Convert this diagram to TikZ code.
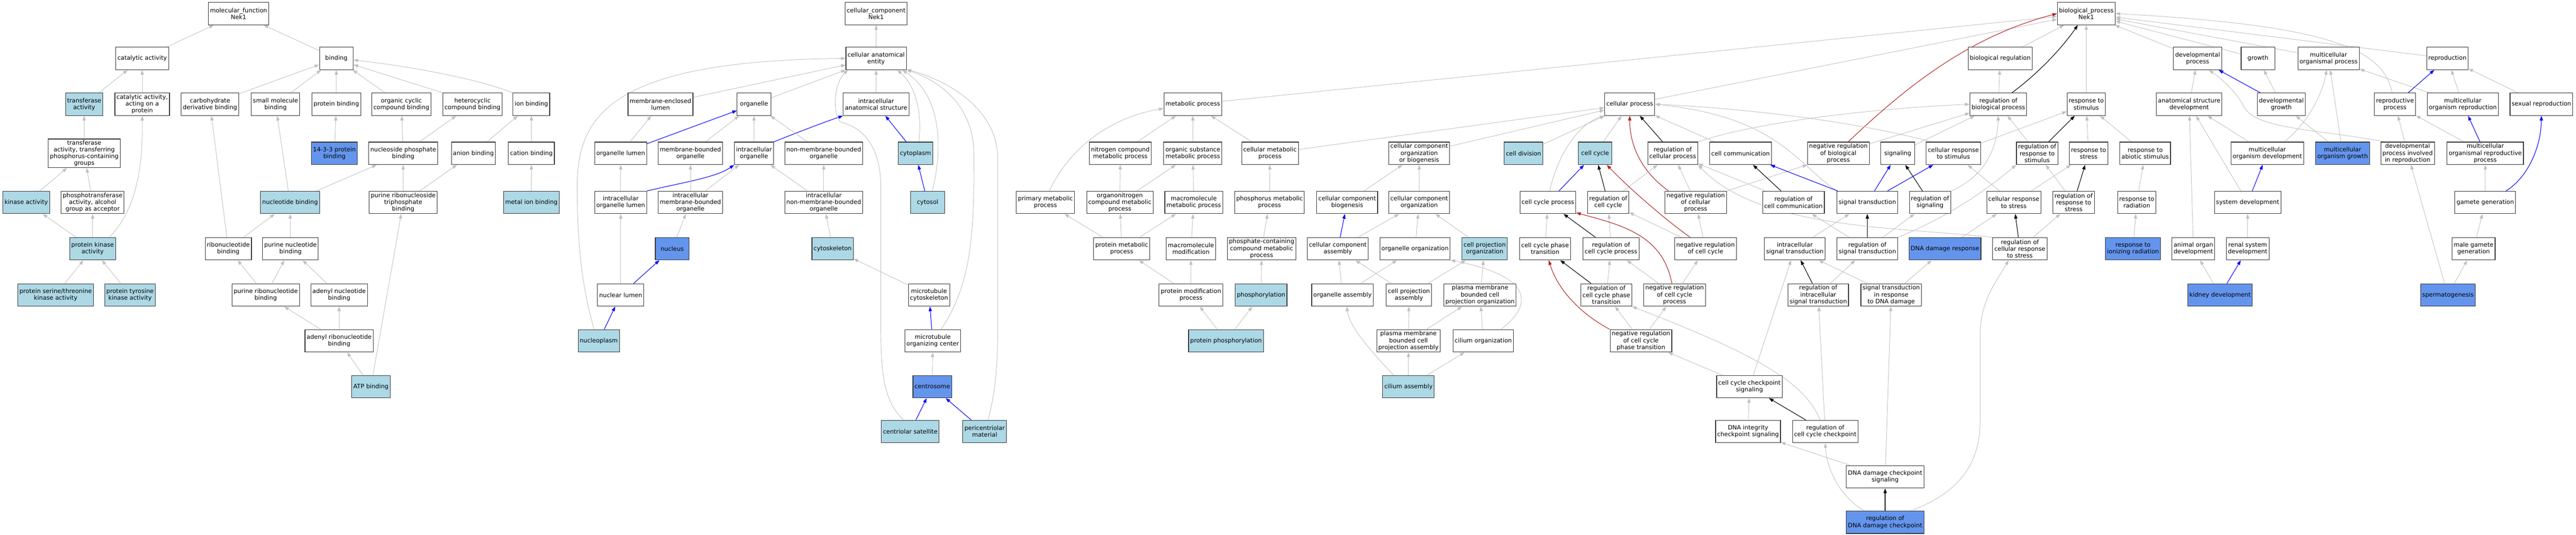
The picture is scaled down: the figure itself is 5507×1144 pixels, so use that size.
\documentclass[tikz,border=0pt]{standalone}
\usepackage{fontspec}
\setmainfont{DejaVu Sans}
\usetikzlibrary{arrows.meta}
\definecolor{cLB}{HTML}{ADD8E6}
\definecolor{cRB}{HTML}{6495ED}
\definecolor{cG}{HTML}{C0C0C0}
\definecolor{cR}{HTML}{B22222}
\definecolor{cBd}{HTML}{333333}
\pgfdeclarelayer{bg}
\pgfsetlayers{bg,main}
\tikzset{
  nb/.style={draw=cBd, line width=1.2pt, fill=white, rectangle, align=center,
    inner xsep=3.5pt, inner ysep=2.5pt, minimum height=48pt, minimum width=72pt,
    font=\fontsize{12.8}{14.6}\selectfont},
  lbn/.style={nb, fill=cLB},
  rbn/.style={nb, fill=cRB},
  ge/.style={draw=cG, line width=1pt, -{Triangle[length=10pt,width=7pt]}},
  be/.style={draw=blue, line width=1.2pt, -{Triangle[length=10pt,width=7pt]}},
  ke/.style={draw=black, line width=1.2pt, -{Triangle[length=10pt,width=7pt]}},
  re/.style={draw=cR, line width=1.2pt, -{Triangle[length=10pt,width=7pt]}},
}
\begin{document}
\begin{tikzpicture}[x=1pt,y=-1pt]
\useasboundingbox (0,0) rectangle (5507,1144);
% ---------------- molecular function ----------------
\node[nb] (mf) at (510,29) {molecular\_function\\Nek1};
\node[nb] (catact) at (304,125) {catalytic activity};
\node[nb] (binding) at (719,125) {binding};
\node[lbn] (transf) at (180,223) {transferase\\activity};
\node[nb] (catprot) at (304,223) {catalytic activity,\\acting on a\\protein};
\node[nb] (carbo) at (449,223) {carbohydrate\\derivative binding};
\node[nb] (smallmol) at (589,223) {small molecule\\binding};
\node[nb] (protbind) at (719,223) {protein binding};
\node[nb] (orgcyc) at (858,223) {organic cyclic\\compound binding};
\node[nb] (hetero) at (1010,223) {heterocyclic\\compound binding};
\node[nb] (ionb) at (1136,223) {ion binding};
\node[nb] (transphos) at (180,328) {transferase\\activity, transferring\\phosphorus-containing\\groups};
\node[rbn] (b1433) at (715,328) {14-3-3 protein\\binding};
\node[nb] (nucphos) at (862,328) {nucleoside phosphate\\binding};
\node[nb] (anion) at (1012,328) {anion binding};
\node[nb] (cation) at (1136,328) {cation binding};
\node[lbn] (kinase) at (56,433) {kinase activity};
\node[nb] (phosphotr) at (198,433) {phosphotransferase\\activity, alcohol\\group as acceptor};
\node[lbn] (nucleotide) at (620,433) {nucleotide binding};
\node[nb] (purribotri) at (862,433) {purine ribonucleoside\\triphosphate\\binding};
\node[lbn] (metalion) at (1136,433) {metal ion binding};
\node[lbn] (protkin) at (198,532) {protein kinase\\activity};
\node[nb] (ribonuc) at (488,532) {ribonucleotide\\binding};
\node[nb] (purnuc) at (621,532) {purine nucleotide\\binding};
\node[lbn] (serthr) at (119,631) {protein serine/threonine\\kinase activity};
\node[lbn] (tyr) at (278,631) {protein tyrosine\\kinase activity};
\node[nb] (purribo) at (568,631) {purine ribonucleotide\\binding};
\node[nb] (adenyl) at (725,631) {adenyl nucleotide\\binding};
\node[nb] (adenylribo) at (725,729) {adenyl ribonucleotide\\binding};
\node[lbn] (atp) at (793,827) {ATP binding};
% ---------------- cellular component ----------------
\node[nb] (cc) at (1873,29) {cellular\_component\\Nek1};
\node[nb] (cae) at (1873,125) {cellular anatomical\\entity};
\node[nb] (mel) at (1412,223) {membrane-enclosed\\lumen};
\node[nb] (organelle) at (1612,223) {organelle};
\node[nb] (ias) at (1873,223) {intracellular\\anatomical structure};
\node[nb] (orglumen) at (1327,328) {organelle lumen};
\node[nb] (mbo) at (1476,328) {membrane-bounded\\organelle};
\node[nb] (io) at (1612,328) {intracellular\\organelle};
\node[nb] (nmbo) at (1761,328) {non-membrane-bounded\\organelle};
\node[lbn] (cytoplasm) at (1957,328) {cytoplasm};
\node[nb] (iol) at (1327,433) {intracellular\\organelle lumen};
\node[nb] (imbo) at (1476,433) {intracellular\\membrane-bounded\\organelle};
\node[nb] (inmbo) at (1761,433) {intracellular\\non-membrane-bounded\\organelle};
\node[lbn] (cytosol) at (1983,433) {cytosol};
\node[rbn] (nucleus) at (1437,532) {nucleus};
\node[lbn] (cytoskel) at (1780,532) {cytoskeleton};
\node[nb] (nuclumen) at (1327,631) {nuclear lumen};
\node[nb] (mtcyto) at (1986,631) {microtubule\\cytoskeleton};
\node[lbn] (nucleoplasm) at (1280,729) {nucleoplasm};
\node[nb] (mtoc) at (1994,729) {microtubule\\organizing center};
\node[rbn] (centrosome) at (1993,827) {centrosome};
\node[lbn] (centsat) at (1946,923) {centriolar satellite};
\node[lbn] (pcm) at (2105,923) {pericentriolar\\material};
% ---------------- biological process ----------------
\node[nb] (bp) at (4460,29) {biological\_process\\Nek1};
\node[nb] (bioreg) at (4276,125) {biological regulation};
\node[nb] (devproc) at (4698,125) {developmental\\process};
\node[nb] (growth) at (4827,125) {growth};
\node[nb] (mop) at (4978,125) {multicellular\\organismal process};
\node[nb] (repro) at (5232,125) {reproduction};
\node[nb] (metab) at (2550,223) {metabolic process};
\node[nb] (cellproc) at (3484,223) {cellular process};
\node[nb] (regbio) at (4272,223) {regulation of\\biological process};
\node[nb] (respstim) at (4460,223) {response to\\stimulus};
\node[nb] (asd) at (4680,223) {anatomical structure\\development};
\node[nb] (devgrowth) at (4877,223) {developmental\\growth};
\node[nb] (reproproc) at (5120,223) {reproductive\\process};
\node[nb] (mor) at (5265,223) {multicellular\\organism reproduction};
\node[nb] (sexrepro) at (5433,223) {sexual reproduction};
% row 3
\node[nb] (nitro) at (2395,328) {nitrogen compound\\metabolic process};
\node[nb] (orgsub) at (2550,328) {organic substance\\metabolic process};
\node[nb] (cellmetab) at (2715,328) {cellular metabolic\\process};
\node[nb] (ccoob) at (3034,328) {cellular component\\organization\\or biogenesis};
\node[lbn] (celldiv) at (3257,328) {cell division};
\node[lbn] (cellcycle) at (3410,328) {cell cycle};
\node[nb] (regcellproc) at (3576,328) {regulation of\\cellular process};
\node[nb] (cellcomm) at (3721,328) {cell communication};
\node[nb] (negregbio) at (3930,328) {negative regulation\\of biological\\process};
\node[nb] (signaling) at (4057,328) {signaling};
\node[nb] (cellrespstim) at (4176,328) {cellular response\\to stimulus};
\node[nb] (regrespstim) at (4355,328) {regulation of\\response to\\stimulus};
\node[nb] (respstress) at (4465,328) {response to\\stress};
\node[nb] (respabio) at (4586,328) {response to\\abiotic stimulus};
\node[nb] (mod) at (4847,328) {multicellular\\organism development};
\node[rbn] (mog) at (5008,328) {multicellular\\organism growth};
\node[nb] (dpir) at (5147,328) {developmental\\process involved\\in reproduction};
\node[nb] (morp) at (5313,328) {multicellular\\organismal reproductive\\process};
% row 4
\node[nb] (primmetab) at (2235,433) {primary metabolic\\process};
\node[nb] (orgnitro) at (2394,433) {organonitrogen\\compound metabolic\\process};
\node[nb] (macrometab) at (2552,433) {macromolecule\\metabolic process};
\node[nb] (phosmetab) at (2714,433) {phosphorus metabolic\\process};
\node[nb] (ccbio) at (2880,433) {cellular component\\biogenesis};
\node[nb] (ccorg) at (3034,433) {cellular component\\organization};
\node[nb] (ccproc) at (3309,433) {cell cycle process};
\node[nb] (regcc) at (3438,433) {regulation of\\cell cycle};
\node[nb] (negregcellproc) at (3625,433) {negative regulation\\of cellular\\process};
\node[nb] (regcellcomm) at (3834,433) {regulation of\\cell communication};
\node[nb] (sigtrans) at (3992,433) {signal transduction};
\node[nb] (regsig) at (4126,433) {regulation of\\signaling};
\node[nb] (cellrespstress) at (4305,433) {cellular response\\to stress};
\node[nb] (regrespstress) at (4433,433) {regulation of\\response to\\stress};
\node[nb] (resprad) at (4568,433) {response to\\radiation};
\node[nb] (sysdev) at (4805,433) {system development};
\node[nb] (gamete) at (5313,433) {gamete generation};
% row 5
\node[nb] (protmetab) at (2398,532) {protein metabolic\\process};
\node[nb] (macromod) at (2546,532) {macromolecule\\modification};
\node[nb] (phoscont) at (2697,532) {phosphate-containing\\compound metabolic\\process};
\node[nb] (ccassem) at (2860,532) {cellular component\\assembly};
\node[nb] (orgorg) at (3025,532) {organelle organization};
\node[lbn] (cpo) at (3174,532) {cell projection\\organization};
\node[nb] (ccpt) at (3303,532) {cell cycle phase\\transition};
\node[nb] (regccproc) at (3444,532) {regulation of\\cell cycle process};
\node[nb] (negregcc) at (3646,532) {negative regulation\\of cell cycle};
\node[nb] (intrasig) at (3837,532) {intracellular\\signal transduction};
\node[nb] (regsigtrans) at (3992,532) {regulation of\\signal transduction};
\node[rbn] (dnadam) at (4158,532) {DNA damage response};
\node[nb] (regcellrespstress) at (4318,532) {regulation of\\cellular response\\to stress};
\node[rbn] (respion) at (4560,532) {response to\\ionizing radiation};
\node[nb] (aod) at (4689,532) {animal organ\\development};
\node[nb] (renal) at (4805,532) {renal system\\development};
\node[nb] (malegamete) at (5288,532) {male gamete\\generation};
% row 6
\node[nb] (protmod) at (2546,631) {protein modification\\process};
\node[lbn] (phosph) at (2696,631) {phosphorylation};
\node[nb] (orgassem) at (2870,631) {organelle assembly};
\node[nb] (cpa) at (3012,631) {cell projection\\assembly};
\node[nb] (pmbcpo) at (3164,631) {plasma membrane\\bounded cell\\projection organization};
\node[nb] (regccpt) at (3434,631) {regulation of\\cell cycle phase\\transition};
\node[nb] (negregccproc) at (3580,631) {negative regulation\\of cell cycle\\process};
\node[nb] (regintrasig) at (3887,631) {regulation of\\intracellular\\signal transduction};
\node[nb] (sigdna) at (4043,631) {signal transduction\\in response\\to DNA damage};
\node[rbn] (kidney) at (4746,631) {kidney development};
\node[rbn] (sperm) at (5233,631) {spermatogenesis};
% row 7+
\node[lbn] (protphos) at (2621,729) {protein phosphorylation};
\node[nb] (pmbcpa) at (3011,729) {plasma membrane\\bounded cell\\projection assembly};
\node[nb] (ciliumorg) at (3171,729) {cilium organization};
\node[nb] (negregccpt) at (3508,729) {negative regulation\\of cell cycle\\phase transition};
\node[lbn] (ciliumassem) at (3011,827) {cilium assembly};
\node[nb] (cccheck) at (3740,827) {cell cycle checkpoint\\signaling};
\node[nb] (dnaint) at (3737,923) {DNA integrity\\checkpoint signaling};
\node[nb] (regcccheck) at (3902,923) {regulation of\\cell cycle checkpoint};
\node[nb] (dnadamcheck) at (4030,1020) {DNA damage checkpoint\\signaling};
\node[rbn] (regdnadamcheck) at (4030,1117) {regulation of\\DNA damage checkpoint};

\begin{pgfonlayer}{bg}
\fill[white] (0,0) rectangle (5507,1144);
% MF edges
\draw[ge] (catact) -- (mf);
\draw[ge] (binding) -- (mf);
\draw[ge] (transf) -- (catact);
\draw[ge] (catprot) -- (catact);
\draw[ge] (transphos) -- (transf);
\draw[ge] (kinase) -- (transphos);
\draw[ge] (phosphotr) -- (transphos);
\draw[ge] (protkin) -- (kinase);
\draw[ge] (protkin) -- (phosphotr);
\draw[ge] ([xshift=36pt]protkin.north) .. controls (290,450) and (306,360) .. (catprot.south);
\draw[ge] (serthr) -- (protkin);
\draw[ge] (tyr) -- (protkin);
\draw[ge] (carbo) -- (binding);
\draw[ge] (smallmol) -- (binding);
\draw[ge] (protbind) -- (binding);
\draw[ge] (orgcyc) -- (binding);
\draw[ge] (hetero.north west) -- (binding.-20);
\draw[ge] (ionb.north west) .. controls (1030,172) and (900,145) .. (binding.-5);
\draw[ge] (b1433) -- (protbind);
\draw[ge] (nucphos) -- (orgcyc);
\draw[ge] (nucphos) -- (hetero);
\draw[ge] (nucleotide) -- (smallmol);
\draw[ge] (nucleotide) -- (nucphos);
\draw[ge] (purribotri) -- (nucphos);
\draw[ge] (purribotri) -- (anion);
\draw[ge] (anion) -- (ionb);
\draw[ge] (cation) -- (ionb);
\draw[ge] (metalion) -- (cation);
\draw[ge] (ribonuc) -- (carbo);
\draw[ge] (ribonuc) -- (nucleotide);
\draw[ge] (purnuc) -- (nucleotide);
\draw[ge] (purribo) -- (ribonuc);
\draw[ge] (purribo) -- (purnuc);
\draw[ge] (adenyl) -- (purnuc);
\draw[ge] (adenylribo) -- (purribo);
\draw[ge] (adenylribo) -- (adenyl);
\draw[ge] (atp) -- (adenylribo);
\draw[ge] (atp) -- (purribotri);
% CC edges
\draw[ge] (cae) -- (cc);
\draw[ge] (ias) -- (cae);
\draw[ge] (mel) -- (cae);
\draw[ge] (organelle) -- (cae);
\draw[ge] (orglumen) -- (mel);
\draw[be] (orglumen) -- (organelle);
\draw[ge] (mbo) -- (organelle);
\draw[ge] (io) -- (organelle);
\draw[be] (io.north east) .. controls (1700,285) and (1760,262) .. (ias.south west);
\draw[ge] (nmbo) -- (organelle);
\draw[ge] (iol) -- (orglumen);
\draw[be] (iol.north east) .. controls (1460,390) and (1530,380) .. (io.south west);
\draw[ge] (imbo) -- (mbo);
\draw[ge] (imbo) -- (io);
\draw[ge] (inmbo) -- (io);
\draw[ge] (inmbo) -- (nmbo);
\draw[ge] (nucleus) -- (imbo);
\draw[ge] (cytoskel) -- (inmbo);
\draw[ge] (nuclumen) -- (iol);
\draw[be] (nuclumen) -- (nucleus);
\draw[be] (nucleoplasm) -- (nuclumen);
\draw[ge] ([xshift=-10pt]nucleoplasm.north) .. controls (1240,600) and (1234,500) .. (1234,400) .. controls (1234,250) and (1300,130) .. (cae.west);
\draw[be] (cytoplasm) -- (ias);
\draw[ge] ([xshift=7pt]cytoplasm.north) .. controls (1972,250) and (1960,185) .. ([xshift=45pt]cae.south);
\draw[be] (cytosol) -- (cytoplasm);
\draw[ge] ([xshift=10pt]cytosol.north) .. controls (2020,300) and (2005,200) .. ([xshift=56pt]cae.south);
\draw[ge] (mtcyto) -- (cytoskel);
\draw[be] (mtoc) -- (mtcyto);
\draw[ge] ([xshift=18pt]mtoc.north) .. controls (2082,600) and (2082,480) .. (2082,330) .. controls (2082,220) and (2000,170) .. (cae.south east);
\draw[ge] (centrosome) -- (mtoc);
\draw[be] (centsat) -- (centrosome);
\draw[be] (pcm) -- (centrosome);
\draw[ge] ([xshift=7pt]pcm.north) .. controls (2133,820) and (2133,760) .. (2133,650) -- (2133,340) .. controls (2133,230) and (2020,170) .. (cae.-20);
\draw[ge] ([xshift=-14pt]centsat.north) .. controls (1890,860) and (1883,800) .. (1883,700) -- (1883,400) .. controls (1883,320) and (1850,275) .. (1800,262) .. controls (1780,257) and (1780,180) .. ([xshift=-60pt]cae.south);
% BP metabolic
\draw[ge] (metab) -- (bp);
\draw[ge] (nitro) -- (metab);
\draw[ge] (orgsub) -- (metab);
\draw[ge] (cellmetab) -- (metab);
\draw[ge] ([xshift=8pt]primmetab.north) .. controls (2290,310) and (2380,250) .. ([yshift=-9pt]metab.west);
\draw[ge] (orgnitro) -- (nitro);
\draw[ge] (orgnitro) -- (orgsub);
\draw[ge] (macrometab) -- (orgsub);
\draw[ge] (protmetab) -- (primmetab);
\draw[ge] (protmetab) -- (orgnitro);
\draw[ge] (protmetab) -- (macrometab);
\draw[ge] (macromod) -- (macrometab);
\draw[ge] (protmod) -- (protmetab);
\draw[ge] (protmod) -- (macromod);
\draw[ge] (phosmetab) -- (cellmetab);
\draw[ge] (phoscont) -- (phosmetab);
\draw[ge] (phosph) -- (phoscont);
\draw[ge] (protphos) -- (protmod);
\draw[ge] (protphos) -- (phosph);
\draw[ge] (cellmetab) -- (cellproc);
% component organization
\draw[ge] (ccoob) -- (cellproc);
\draw[ge] (celldiv) -- (cellproc);
\draw[ge] (ccbio) -- (ccoob);
\draw[ge] (ccorg) -- (ccoob);
\draw[be] (ccassem) -- (ccbio);
\draw[ge] (ccassem) -- (ccorg);
\draw[ge] (orgorg) -- (ccorg);
\draw[ge] (cpo) -- (ccorg);
\draw[ge] (orgassem) -- (ccassem);
\draw[ge] (orgassem) -- (orgorg);
\draw[ge] (cpa) -- (ccassem);
\draw[ge] (cpa) -- (cpo);
\draw[ge] (pmbcpo) -- (cpo);
\draw[ge] (pmbcpa) -- (cpa);
\draw[ge] (pmbcpa) -- (pmbcpo);
\draw[ge] (ciliumorg) -- (pmbcpo);
\draw[ge] ([xshift=38pt]ciliumorg.north) .. controls (3280,650) and (3275,590) .. (orgorg.south east);
\draw[ge] ([xshift=-32pt]ciliumassem.north) .. controls (2930,750) and (2885,700) .. ([xshift=9pt]orgassem.south);
\draw[ge] (ciliumassem) -- (pmbcpa);
\draw[ge] (ciliumassem) -- (ciliumorg);
% cellular process / cell cycle / signalling
\draw[ge] (cellproc) -- (bp);
\draw[ge] ([xshift=4pt]ccproc.north) .. controls (3330,330) and (3375,265) .. (cellproc.south west);
\draw[be] (ccproc) -- (cellcycle);
\draw[ge] (cellcycle) -- (cellproc);
\draw[ke] (regcellproc) -- (cellproc);
\draw[ge] (regcellproc.north east) .. controls (3750,262) and (4000,232) .. (regbio.west);
\draw[ge] (cellcomm) -- (cellproc);
\draw[re] ([xshift=-58pt]negregcellproc.north) .. controls (3500,360) and (3484,300) .. (cellproc.south);
\draw[ge] (negregcellproc) -- (regcellproc);
\draw[ge] (negregcellproc.north east) -- (negregbio.south west);
\draw[re] ([xshift=21pt]negregbio.north) .. controls (4060,200) and (4200,80) .. (bp.west);
\draw[ge] (negregbio) -- (regbio);
\draw[ge] (signaling) -- (regbio);
\draw[ge] ([xshift=11pt]cellrespstim.north west) .. controls (3950,255) and (3700,230) .. (cellproc.east);
\draw[ge] (sigtrans.north west) .. controls (3840,350) and (3800,250) .. (cellproc.east);
\draw[be] (sigtrans) -- (cellcomm);
\draw[be] (sigtrans) -- (signaling);
\draw[be] (sigtrans) -- (cellrespstim);
\draw[ke] (regcc) -- (cellcycle);
\draw[ge] (regcc) -- (regcellproc);
\draw[ke] (regcellcomm) -- (cellcomm);
\draw[ge] (regcellcomm) -- (regcellproc);
\draw[ke] (regsig) -- (signaling);
\draw[ge] (regsig.north east) .. controls (4240,380) and (4270,320) .. (regbio.south);
\draw[ge] (ccpt) -- (ccproc);
\draw[ke] (regccproc) -- (ccproc);
\draw[ge] (regccproc) -- (regcc);
\draw[re] ([xshift=-33pt]negregcc.north) .. controls (3560,470) and (3480,400) .. ([xshift=25pt]cellcycle.south);
\draw[ge] (negregcc) -- (regcc);
\draw[ge] (negregcc) -- (negregcellproc);
\draw[ge] (intrasig) -- (sigtrans);
\draw[ke] (regsigtrans) -- (sigtrans);
\draw[ge] (regsigtrans) -- (regcellcomm);
\draw[ge] (regsigtrans) -- (regsig);
\draw[ge] (regsigtrans.north east) .. controls (4150,470) and (4230,420) .. (regrespstim.south west);
\draw[ke] (regccpt) -- (ccpt);
\draw[ge] (regccpt) -- (regccproc);
\draw[re] ([xshift=-6pt]negregccproc.north) .. controls (3555,500) and (3460,480) .. (ccproc.-20);
\draw[ge] (negregccproc) -- (regccproc);
\draw[ge] (negregccproc) -- (negregcc);
\draw[ke] (regintrasig) -- (intrasig);
\draw[ge] (regintrasig) -- (regsigtrans);
\draw[ge] (sigdna) -- (intrasig);
\draw[ge] (sigdna) -- (dnadam);
\draw[re] (negregccpt.north west) .. controls (3380,672) and (3330,620) .. ([xshift=8pt]ccpt.south);
\draw[ge] (negregccpt) -- (regccpt);
\draw[ge] (negregccpt) -- (negregccproc);
\draw[ge] (cccheck) -- (negregccpt);
\draw[ge] (cccheck) -- (intrasig);
\draw[ge] (dnaint) -- (cccheck);
\draw[ke] (regcccheck) -- (cccheck);
\draw[ge] (regcccheck) -- (regintrasig);
\draw[ge] ([xshift=-11pt]regcccheck.north) .. controls (3860,820) and (3760,760) .. (regccpt.south east);
\draw[ge] (dnadamcheck) -- (dnaint);
\draw[ge] (dnadamcheck) -- (sigdna);
\draw[ke] (regdnadamcheck) -- (dnadamcheck);
\draw[ge] ([xshift=-45pt]regdnadamcheck.north) .. controls (3930,1060) and (3905,1000) .. (regcccheck.south);
\draw[ge] ([xshift=55pt]regdnadamcheck.north) .. controls (4200,1050) and (4233,980) .. (4233,900) -- (4233,720) .. controls (4233,640) and (4270,600) .. ([xshift=-24pt]regcellrespstress.south);
\draw[ge] ([xshift=-60pt]regcellrespstress.north) .. controls (4050,485) and (3760,490) .. (regcellproc.south east);
% response
\draw[ge] (bioreg) -- (bp);
\draw[ke] ([xshift=29pt]regbio.north) .. controls (4360,155) and (4410,100) .. ([xshift=-18pt]bp.south);
\draw[ge] (regbio) -- (bioreg);
\draw[ge] (respstim) -- (bp);
\draw[ge] (regrespstim) -- (regbio);
\draw[ke] (regrespstim) -- (respstim);
\draw[ge] (cellrespstim) -- (respstim);
\draw[ge] (respstress) -- (respstim);
\draw[ge] (respabio) -- (respstim);
\draw[ge] (cellrespstress) -- (cellrespstim);
\draw[ge] (cellrespstress) -- (respstress);
\draw[ge] (regrespstress) -- (regrespstim);
\draw[ke] (regrespstress) -- (respstress);
\draw[ge] (resprad) -- (respabio);
\draw[ge] (dnadam) -- (cellrespstress);
\draw[ke] (regcellrespstress) -- (cellrespstress);
\draw[ge] (regcellrespstress) -- (regrespstress);
\draw[ge] (respion) -- (resprad);
% development / reproduction
\draw[ge] (devproc) -- (bp);
\draw[ge] (growth) -- (bp);
\draw[ge] (mop) -- (bp);
\draw[ge] (repro) -- (bp);
\draw[ge] ([xshift=-6pt]reproproc.north) .. controls (5095,110) and (5000,55) .. (bp.east);
\draw[ge] (asd) -- (devproc);
\draw[be] (devgrowth) -- (devproc);
\draw[ge] (devgrowth) -- (growth);
\draw[ge] (mod) -- (asd);
\draw[ge] ([xshift=36pt]mod.north) .. controls (4935,262) and (4965,200) .. ([xshift=-4pt]mop.south);
\draw[ge] (mog) -- (devgrowth);
\draw[ge] (mog) -- (mop);
\draw[ge] (sysdev) -- (asd);
\draw[be] (sysdev) -- (mod);
\draw[ge] (aod) -- (asd);
\draw[ge] (renal) -- (sysdev);
\draw[ge] (kidney) -- (aod);
\draw[be] (kidney) -- (renal);
\draw[ge] ([xshift=-49pt]dpir.north) .. controls (4950,275) and (4820,278) .. (4795,225) .. controls (4780,195) and (4745,165) .. ([xshift=24pt]devproc.south);
\draw[ge] (dpir) -- (reproproc);
\draw[ge] (mor) -- (repro);
\draw[ge] (mor) -- (mop);
\draw[be] (reproproc) -- (repro);
\draw[ge] (sexrepro) -- (repro);
\draw[be] (morp) -- (mor);
\draw[ge] (morp) -- (reproproc);
\draw[ge] (gamete) -- (morp);
\draw[be] ([xshift=44pt]gamete.north) .. controls (5400,383) and (5432,320) .. (sexrepro.south);
\draw[ge] (malegamete) -- (gamete);
\draw[ge] (sperm) -- (malegamete);
\draw[ge] (sperm) -- (dpir);
\end{pgfonlayer}
\end{tikzpicture}
\end{document}
